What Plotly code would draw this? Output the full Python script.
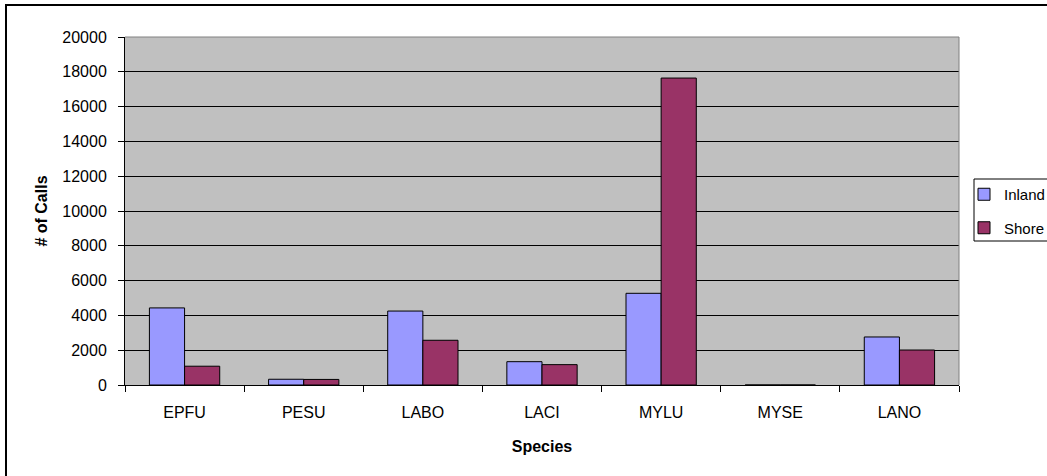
import plotly.graph_objects as go

# Bat call counts per species at two survey sites
species = ["EPFU", "PESU", "LABO", "LACI", "MYLU", "MYSE", "LANO"]
inland = [4430, 330, 4250, 1340, 5270, 0, 2760]
shore = [1080, 320, 2570, 1170, 17640, 0, 2010]
y_ticks = [0, 2000, 4000, 6000, 8000, 10000, 12000, 14000, 16000, 18000, 20000]

W, H = 1047, 476
L, R, T, B = 125, 88, 37, 91
pw, ph = W - L - R, H - T - B

FONT = "Liberation Sans, Arial, sans-serif"

fig = go.Figure()
fig.add_trace(go.Bar(
    name="Inland", x=species, y=inland, legendgroup="inland",
    marker=dict(color="#9999FF", line=dict(color="black", width=1)),
))
fig.add_trace(go.Bar(
    name="Shore", x=species, y=shore, legendgroup="shore",
    marker=dict(color="#993366", line=dict(color="black", width=1)),
))

def px_x(x):
    return (x - L) / pw

def px_y(y):
    return 1 - (y - T) / ph

fig.update_layout(
    width=W, height=H,
    margin=dict(l=L, r=R, t=T, b=B, pad=0, autoexpand=False),
    paper_bgcolor="white",
    plot_bgcolor="#C0C0C0",
    barmode="group",
    bargap=0.41,
    bargroupgap=0,
    font=dict(family=FONT, size=16, color="black"),
    showlegend=True,
    legend=dict(
        x=px_x(964), y=px_y(178), xanchor="left", yanchor="top",
        bgcolor="rgba(0,0,0,0)", borderwidth=0,
        traceorder="grouped", tracegroupgap=11,
        font=dict(family=FONT, size=15, color="black"),
    ),
    xaxis=dict(
        showgrid=False, showline=True, linecolor="black", linewidth=1,
        ticks="outside", ticklen=6, tickcolor="black", tickson="boundaries",
        ticklabelstandoff=13,
        tickfont=dict(family=FONT, size=16),
        title=dict(text="<b>Species</b>", standoff=20,
                   font=dict(family=FONT, size=16)),
        fixedrange=True,
    ),
    yaxis=dict(
        range=[0, 20000], tickvals=y_ticks,
        ticktext=[str(v) for v in y_ticks],
        showgrid=True, gridcolor="black", gridwidth=1,
        showline=True, linecolor="black", linewidth=1,
        ticks="outside", ticklen=6, tickcolor="black",
        ticklabelstandoff=8,
        tickfont=dict(family=FONT, size=16),
        zeroline=False,
        title=dict(text="<b># of Calls</b>", standoff=10,
                   font=dict(family=FONT, size=16)),
        fixedrange=True,
    ),
    shapes=[
        # grey frame around the plotting area (top and right edges)
        dict(type="line", xref="paper", yref="paper", x0=0, x1=1, y0=1, y1=1,
             line=dict(color="#808080", width=1), layer="above"),
        dict(type="line", xref="paper", yref="paper", x0=1, x1=1, y0=0, y1=1,
             line=dict(color="#808080", width=1), layer="above"),
        # legend box
        dict(type="rect", xref="paper", yref="paper",
             x0=px_x(974), x1=px_x(1060), y0=px_y(241), y1=px_y(179),
             line=dict(color="black", width=1), fillcolor="rgba(0,0,0,0)",
             layer="above"),
        # outer chart border
        dict(type="rect", xref="paper", yref="paper",
             x0=px_x(6), x1=px_x(1060), y0=px_y(490), y1=px_y(5),
             line=dict(color="black", width=2), fillcolor="rgba(0,0,0,0)",
             layer="above"),
    ],
)

fig.write_html("out.html")
